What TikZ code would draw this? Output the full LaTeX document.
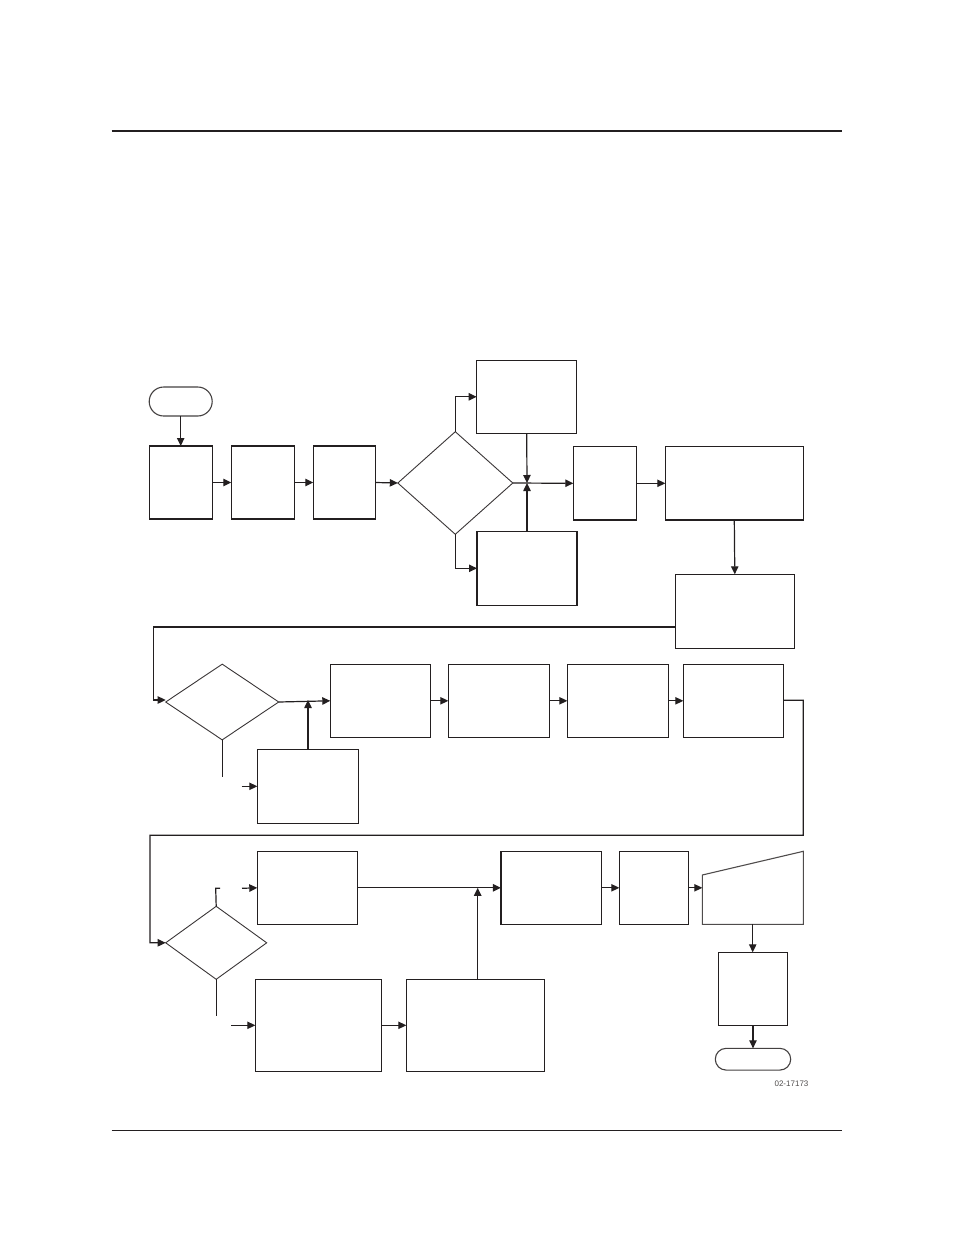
\documentclass[tikz,border=0pt]{standalone}
\usepackage{fontspec}
\setmainfont{Liberation Sans}
\usetikzlibrary{arrows.meta,shapes.geometric}
\definecolor{ink}{HTML}{231F20}
\tikzset{
  boxnode/.style={draw=ink,line width=1.3pt,rectangle,inner sep=0pt,outer sep=0pt},
  termnode/.style={draw=ink!85,line width=1.1pt,rectangle,inner sep=0pt,outer sep=0pt},
  decnode/.style={draw=ink!90,line width=0.9pt,diamond,inner sep=0pt,outer sep=0pt},
  arr/.style={draw=ink,line width=1.2pt,-{Triangle[length=8pt,width=7.4pt]}},
  conn/.style={draw=ink,line width=1.2pt}
}
\begin{document}
\begin{tikzpicture}[x=1pt,y=-1pt]
\useasboundingbox (0,0) rectangle (954,1235);
% page rules
\coordinate (r1a) at (111.7,130.7); \coordinate (r1b) at (842,130.7);
\coordinate (r2a) at (111.7,1130.7); \coordinate (r2b) at (841.7,1130.7);
\draw[ink,line width=2.2pt] (r1a) -- (r1b);
\draw[ink,line width=1pt] (r2a) -- (r2b);

% row 1
\node[termnode,rounded corners=14.5pt,minimum width=63pt,minimum height=29pt] (start) at (180.7,401.5) {};
\node[boxnode,minimum width=63pt,minimum height=73pt] (b1) at (180.7,482.5) {};
\node[boxnode,minimum width=63.4pt,minimum height=73pt] (b2) at (263,482.5) {};
\node[boxnode,minimum width=62.4pt,minimum height=73pt] (b3) at (344.5,482.5) {};
\node[decnode,minimum width=115pt,minimum height=102.6pt] (d1) at (455.3,483) {};
\node[boxnode,minimum width=100pt,minimum height=73pt] (tr) at (526.7,396.8) {};
\node[boxnode,minimum width=100pt,minimum height=74pt] (br) at (527,568.3) {};
\coordinate (j) at (527,483);
\node[boxnode,minimum width=63pt,minimum height=73.6pt] (b4) at (604.8,483.3) {};
\node[boxnode,minimum width=138pt,minimum height=73.6pt] (b5) at (734.3,483.3) {};
\node[boxnode,minimum width=119pt,minimum height=74pt] (b6) at (734.8,611.3) {};

\draw[arr] (start.south) -- (b1.north);
\draw[arr] (b1.east) -- (b2.west);
\draw[arr] (b2.east) -- (b3.west);
\draw[arr] (b3.east) -- (d1.west);
\draw[arr] (d1.north) |- (tr.west);
\draw[arr] (d1.south) |- (br.west);
\draw[arr] (tr.south) -- (j);
\draw[arr] (br.north) -- (j);
\draw[arr] (d1.east) -- (b4.west);
\draw[arr] (b4.east) -- (b5.west);
\draw[arr] (b5.south) -- (b6.north);

% row 2
\node[decnode,minimum width=113pt,minimum height=75.7pt] (d2) at (222.2,702) {};
\node[boxnode,minimum width=101.4pt,minimum height=74pt] (b7) at (308,786.3) {};
\node[boxnode,minimum width=100.4pt,minimum height=73pt] (b8) at (380.5,700.8) {};
\node[boxnode,minimum width=101.4pt,minimum height=73pt] (b9) at (499,700.8) {};
\node[boxnode,minimum width=101pt,minimum height=73pt] (b10) at (617.8,700.8) {};
\node[boxnode,minimum width=100.4pt,minimum height=73pt] (b11) at (733.5,700.8) {};
\coordinate (k1) at (153.3,700);
\coordinate (d2in) at (165.7,700);
\coordinate (j2) at (308,700);
\coordinate (e2) at (222.2,776.7);
\coordinate (f2) at (241.7,786.3);

\draw[arr] ([yshift=-15.7pt]b6.west) -| (k1) -- (d2in);
\draw[arr] (d2.east) -- (b8.west);
\draw[arr] (b7.north) -- (j2);
\draw[conn] (d2.south) -- (e2);
\draw[arr] (f2) -- (b7.west);
\draw[arr] (b8.east) -- (b9.west);
\draw[arr] (b9.east) -- (b10.west);
\draw[arr] (b10.east) -- (b11.west);

% row 3
\coordinate (k2) at (803.3,835.3);
\coordinate (k3) at (150,942.7);
\node[decnode,minimum width=101pt,minimum height=73pt] (d3) at (216.2,942.8) {};
\node[boxnode,minimum width=100.4pt,minimum height=73pt] (b12) at (307.5,887.8) {};
\node[boxnode,minimum width=126pt,minimum height=92pt] (b13) at (318.3,1025.3) {};
\node[boxnode,minimum width=138pt,minimum height=92pt] (b15) at (475.3,1025.3) {};
\node[boxnode,minimum width=100.7pt,minimum height=73pt] (b14) at (551.3,887.8) {};
\node[boxnode,minimum width=69pt,minimum height=73pt] (b16) at (653.8,887.8) {};
\node[boxnode,minimum width=69.4pt,minimum height=73pt] (b17) at (753,988.8) {};
\node[termnode,rounded corners=10.8pt,minimum width=75.4pt,minimum height=21.7pt] (end) at (753,1059.2) {};

\draw[arr] ([yshift=0.5pt]b11.east) -| (k2) -| (k3) -- (d3.west);
\coordinate (t3a) at (215.7,888.3);
\coordinate (t3b) at (220,888.3);
\coordinate (t3c) at (242,888.3);
\coordinate (e3) at (216.2,1015.7);
\coordinate (f3) at (231,1025.3);
\draw[conn] (d3.north) -- (t3a) -- (t3b);
\draw[arr] (t3c) -- (b12.west);
\draw[conn] (d3.south) -- (e3);
\draw[arr] (f3) -- (b13.west);
\draw[arr] (b13.east) -- (b15.west);
\draw[arr] ([xshift=2.4pt]b15.north) -- ([xshift=2.4pt]b15.north |- b14.west);
\draw[arr] (b12.east) -- (b14.west);
\draw[arr] (b14.east) -- (b16.west);

% manual input (trapezoid)
\coordinate (m1) at (702.3,875);
\coordinate (m2) at (803.3,851.3);
\coordinate (m3) at (803.3,924.3);
\coordinate (m4) at (702.3,924.3);
\coordinate (min) at (702.3,887.8);
\coordinate (mout) at (752.7,924.3);
\draw[ink!80,line width=1.1pt,line join=miter] (m1) -- (m2) -- (m3) -- (m4) -- cycle;
\draw[arr] (b16.east) -- (min);
\draw[arr] (mout) -- (mout |- b17.north);
\draw[arr] (b17.south) -- (end.north);

\node[font=\fontsize{8}{9}\selectfont,text=ink!80,inner sep=0pt] (code) at (791.5,1083.3) {02-17173};
\end{tikzpicture}
\end{document}
